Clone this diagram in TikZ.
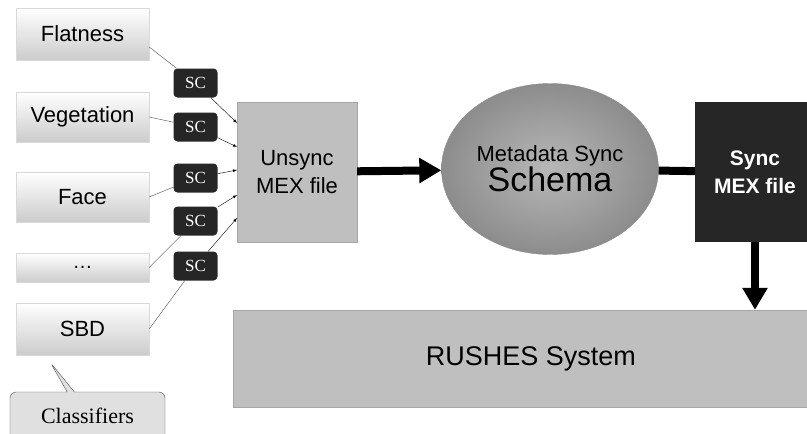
\documentclass[tikz,border=0pt]{standalone}
\usepackage{fontspec}
\setmainfont{Liberation Sans}
\newfontfamily\timesf{Liberation Serif}
\usetikzlibrary{arrows.meta,shapes.geometric,shapes.callouts}

\begin{document}
\begin{tikzpicture}[x=1pt, y=-1pt, >=latex,
    clf/.style={rectangle, draw=black!15, top color=white, bottom color=black!20, minimum width=133pt, inner sep=0pt, font=\fontsize{22}{24}\selectfont},
    sc/.style={rectangle, rounded corners=4pt, fill=black!85, text=white, minimum width=44pt, minimum height=29pt, inner sep=0pt, font=\timesf\fontsize{17}{18}\selectfont},
    fat/.style={line width=8pt, -{Triangle[length=22pt, width=24pt]}}]
    \useasboundingbox (0,0) rectangle (807,434);

    \node (F) at (82.5, 34) [clf, minimum height=52pt] {Flatness};
    \node (V) at (82.5, 117) [clf, minimum height=50pt] {Vegetation};
    \node (A) at (82.5, 197) [clf, minimum height=50pt] {Face};
    \node (D) at (82.5, 267.5) [clf, minimum height=29pt] {\fontsize{20}{20}\selectfont\dots};
    \node (B) at (82.5, 329) [clf, minimum height=52pt] {SBD};

    \node (C) at (87.5, 416) [rectangle callout, rounded corners=6pt, draw=black!70, fill=black!12, minimum width=155pt, minimum height=48pt, callout absolute pointer={(50,362)}, font=\timesf\fontsize{22}{24}\selectfont] {Classifiers};

    %-----

    \node (S1) at (195.5, 83) [sc] {SC};
    \node (S2) at (195.5, 127) [sc] {SC};
    \node (S3) at (195.5, 178) [sc] {SC};
    \node (S4) at (195.5, 221) [sc] {SC};
    \node (S5) at (195.5, 266) [sc] {SC};

    \node (U) at (297, 172) [rectangle, draw=black!35, fill=black!25, minimum width=120pt, minimum height=140pt, align=center, font=\fontsize{22}{28}\selectfont] {Unsync\\MEX file};

    \coordinate (I1) at (237, 123);
    \coordinate (I2) at (237, 147);
    \coordinate (I3) at (237, 170);
    \coordinate (I4) at (237, 195);
    \coordinate (I5) at (237, 218);

    \draw[black!70] ([yshift=-13pt]F.east) -- (S1);
    \draw[black!70] (V.east) -- (S2);
    \draw[black!70] (A.east) -- (S3);
    \draw[black!70] (D.east) -- (S4);
    \draw[black!70] (B.east) -- (S5);

    \draw[->] (S1) -- (I1);
    \draw[->] (S2) -- (I2);
    \draw[->] (S3) -- (I3);
    \draw[->] (S4) -- (I4);
    \draw[->] (S5) -- (I5);

    %-----

    \node (M) at (550, 169) [ellipse, draw=black!45, inner color=black!28, outer color=black!45, minimum width=184pt, minimum height=171pt, align=center] {{\fontsize{22}{27}\selectfont Metadata Sync}\\{\fontsize{34}{34}\selectfont Schema}};

    \node (Y) at (755, 172) [rectangle, fill=black!85, minimum width=120pt, minimum height=140pt, align=center, text=white, font=\bfseries\fontsize{21}{28}\selectfont] {Sync\\MEX file};

    \node (R) at (531, 358.5) [rectangle, draw=black!35, fill=black!25, minimum width=596pt, minimum height=97pt, font=\fontsize{27}{30}\selectfont] {RUSHES System};

    \draw[fat] (U) -- (M);
    \draw[line width=8pt] (M) -- (Y);
    \draw[fat] (Y) -- (Y |- R.north);
\end{tikzpicture}
\end{document}
